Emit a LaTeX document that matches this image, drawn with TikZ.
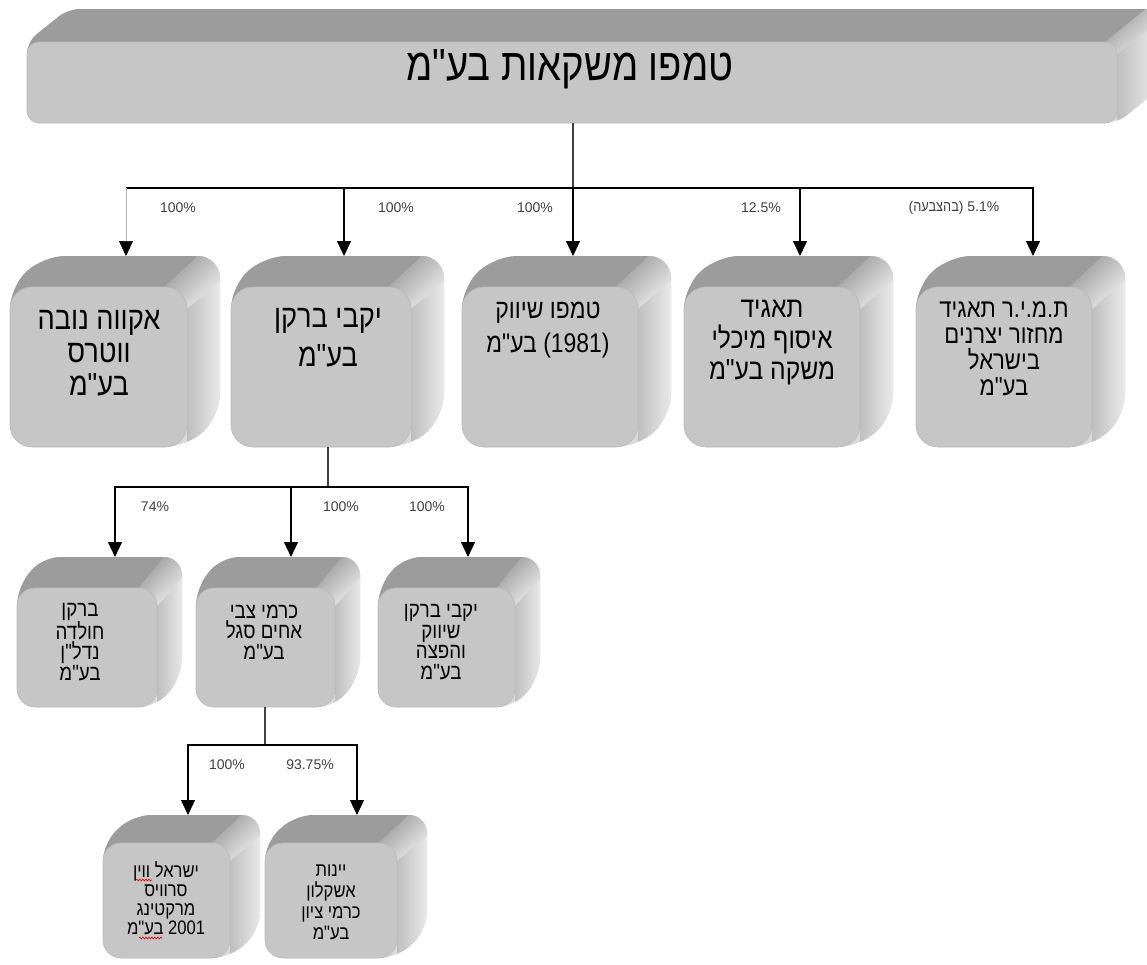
\documentclass[tikz,border=0pt]{standalone}
\usepackage{fontspec}
\setmainfont{Liberation Sans}
\newfontfamily\heb[Script=Hebrew,FakeStretch=0.85]{Liberation Sans}
\TeXXeTstate=1
\usetikzlibrary{arrows.meta,decorations.pathmorphing}
\newcommand{\rl}[1]{\beginR #1\endR}
\definecolor{frontc}{HTML}{C6C6C6}
\definecolor{frontd}{HTML}{BBBBBB}
\definecolor{topc}{HTML}{9C9C9C}
\definecolor{hullc}{HTML}{DADADA}
\definecolor{sidea}{HTML}{BFBFBF}
\definecolor{sideb}{HTML}{F0F0F0}
\definecolor{pctc}{HTML}{404040}
\tikzset{
  front/.style={fill=frontc, draw=frontd, line width=0.6pt, inner sep=0pt, outer sep=0pt},
  conn/.style={draw=black, line width=1.2pt},
  arr/.style={conn, -{Triangle[width=14pt,length=15pt,color=black]}},
  thinarr/.style={draw=gray!60, line width=0.7pt, -{Triangle[width=14pt,length=15pt,color=black]}},
  stem/.style={draw=black!75, line width=1.2pt},
  pct/.style={font=\fontsize{14}{16}\selectfont, text=pctc, inner sep=0pt},
  titletext/.style={font=\heb\fontsize{45}{50}\selectfont, inner sep=0pt},
  lonetext/.style={font=\heb\fontsize{32}{33}\selectfont, align=center, inner sep=0pt},
  ltwotext/.style={font=\heb\fontsize{22}{20.5}\selectfont, align=center, inner sep=0pt},
  lthreetext/.style={font=\heb\fontsize{19.5}{19}\selectfont, align=center, inner sep=0pt},
  spell/.style={draw=red!85!black, line width=0.6pt, decorate, decoration={snake, amplitude=0.9pt, segment length=3pt}}
}
% #1 name, #2 L, #3 T, #4 R, #5 B, #6 depth x, #7 depth y, #8 radius, #9 arrow x
\newcommand{\cube}[9]{%
  \begin{scope}
    \clip[rounded corners=#8] (#2,#5) -- (#4,#5) -- ({#4+#6},{#5-#7}) -- ({#4+#6},{#3-#7}) -- ({#2+#6},{#3-#7}) -- (#2,#3) -- cycle;
    \fill[hullc] ({#2-5},{#3-#7-5}) rectangle ({#4+#6+5},{#5+5});
    \shade[left color=sidea, right color=sideb] (#4,{#3-#7-5}) rectangle ({#4+#6+5},{#5+5});
    \fill[topc] (#2,{#3+#8}) -- (#2,#3) -- ({#2+#6},{#3-#7}) -- ({#4+#6-#8},{#3-#7}) -- ({#4-#8},#3) -- ({#4-#8},{#3+#8}) -- cycle;
    \shade[top color=topc, bottom color=sideb, shading angle=45] ({#4-#8},#3) -- ({#4+#6-#8},{#3-#7}) -- ({#4+#6+3},{#3-#7}) -- ({#4+#6+3},{#3-#7+#8}) -- (#4,{#3+#8}) -- cycle;
  \end{scope}
  \node[front, rounded corners=#8, minimum width={#4pt-#2pt}, minimum height={#5pt-#3pt}] (#1) at ({(#2+#4)/2},{(#3+#5)/2}) {};
  \coordinate (#1in) at (#9,{#3-#7});
}
\begin{document}
\begin{tikzpicture}[x=1pt,y=-1pt]
\useasboundingbox (0,0) rectangle (1147,964);
\clip (0,0) rectangle (1147,964);
\fill[white] (0,0) rectangle (1147,964);

% top bar
\cube{top}{27}{42}{1117}{123}{41}{33}{12}{573}
\node[titletext] (tt) at (570,69) {\rl{טמפו משקאות בע"מ}};

% level 1
\cube{bA}{10}{287}{187}{447}{33}{31}{22}{126}
\cube{bB}{231}{287}{411}{447}{33}{31}{22}{344}
\cube{bC}{462}{287}{638}{447}{33}{31}{22}{573}
\cube{bD}{684}{287}{860}{447}{33}{31}{22}{800}
\cube{bE}{916}{287}{1092}{447}{33}{31}{22}{1033}

\node[lonetext] (bAt) at (99,353) {\rl{אקווה נובה}\\\rl{ווטרס}\\\rl{בע"מ}};
\node[lonetext, font=\heb\fontsize{32}{39}\selectfont] (bBt) at (328,338) {\rl{יקבי ברקן}\\\rl{בע"מ}};
\node[lonetext, font=\heb\fontsize{27}{34}\selectfont] (bCt) at (548,330) {\rl{טמפו שיווק}\\\rl{(1981) בע"מ}};
\node[lonetext, font=\heb\fontsize{29}{31}\selectfont] (bDt) at (772,343) {\rl{תאגיד}\\\rl{איסוף מיכלי}\\\rl{משקה בע"מ}};
\node[lonetext, font=\heb\fontsize{26}{26}\selectfont] (bEt) at (1004,349) {\rl{ת.מ.י.ר תאגיד}\\\rl{מחזור יצרנים}\\\rl{בישראל}\\\rl{בע"מ}};

% level 2
\cube{cA}{17}{588}{157}{707}{25}{31}{18}{115}
\cube{cB}{196}{588}{335}{707}{25}{31}{18}{291}
\cube{cC}{378}{588}{515}{707}{25}{31}{18}{468}

\node[ltwotext] (cAt) at (80,642) {\rl{ברקן}\\\rl{חולדה}\\\rl{נדל"ן}\\\rl{בע"מ}};
\node[ltwotext] (cBt) at (264,632) {\rl{כרמי צבי}\\\rl{אחים סגל}\\\rl{בע"מ}};
\node[ltwotext] (cCt) at (441,642) {\rl{יקבי ברקן}\\\rl{שיווק}\\\rl{והפצה}\\\rl{בע"מ}};

% level 3
\cube{dA}{103}{843}{230}{958}{30}{28}{18}{188}
\cube{dB}{265}{843}{397}{958}{30}{28}{18}{357}

\node[lthreetext] (dAt) at (166,898) {\rl{ישראל ווין}\\\rl{סרוויס}\\\rl{מרקטינג}\\\rl{2001 בע"מ}};
\node[lthreetext, font=\heb\fontsize{19.5}{21}\selectfont] (dBt) at (331,902) {\rl{יינות}\\\rl{אשקלון}\\\rl{כרמי ציון}\\\rl{בע"מ}};
\draw[spell] (136,880) -- (152,880);
\draw[spell] (139,938) -- (162,938);

% connectors level 1
\coordinate (j0) at (573,188);
\draw[stem] (top.south -| j0) -- (j0);
\draw[conn] (j0) -- (j0 -| bAin);
\draw[thinarr] (j0 -| bAin) -- (bAin);
\draw[arr] (j0) -| (bBin);
\draw[arr] (j0) -- (bCin);
\draw[arr] (j0) -| (bDin);
\draw[arr] (j0) -| (bEin);

% connectors level 2
\coordinate (j1) at (328,487);
\draw[stem] (bB.south -| j1) -- (j1);
\draw[arr] (j1) -| (cAin);
\draw[arr] (j1) -| (cBin);
\draw[arr] (j1) -| (cCin);

% connectors level 3
\coordinate (j2) at (265,745);
\draw[stem] (cB.south -| j2) -- (j2);
\draw[arr] (j2) -| (dAin);
\draw[arr] (j2) -| (dBin);

% percentages
\node[pct] (pA) at (178,208) {100\%};
\node[pct] (pB) at (396,208) {100\%};
\node[pct] (pC) at (535,208) {100\%};
\node[pct] (pD) at (761,208) {12.5\%};
\node[pct] (pE) at (954,208) {({\heb\fontsize{15}{16}\selectfont בהצבעה}) 5.1\%};
\node[pct] (qA) at (155,507) {74\%};
\node[pct] (qB) at (341,507) {100\%};
\node[pct] (qC) at (427,507) {100\%};
\node[pct] (sA) at (227,765) {100\%};
\node[pct] (sB) at (310,765) {93.75\%};
\end{tikzpicture}
\end{document}
